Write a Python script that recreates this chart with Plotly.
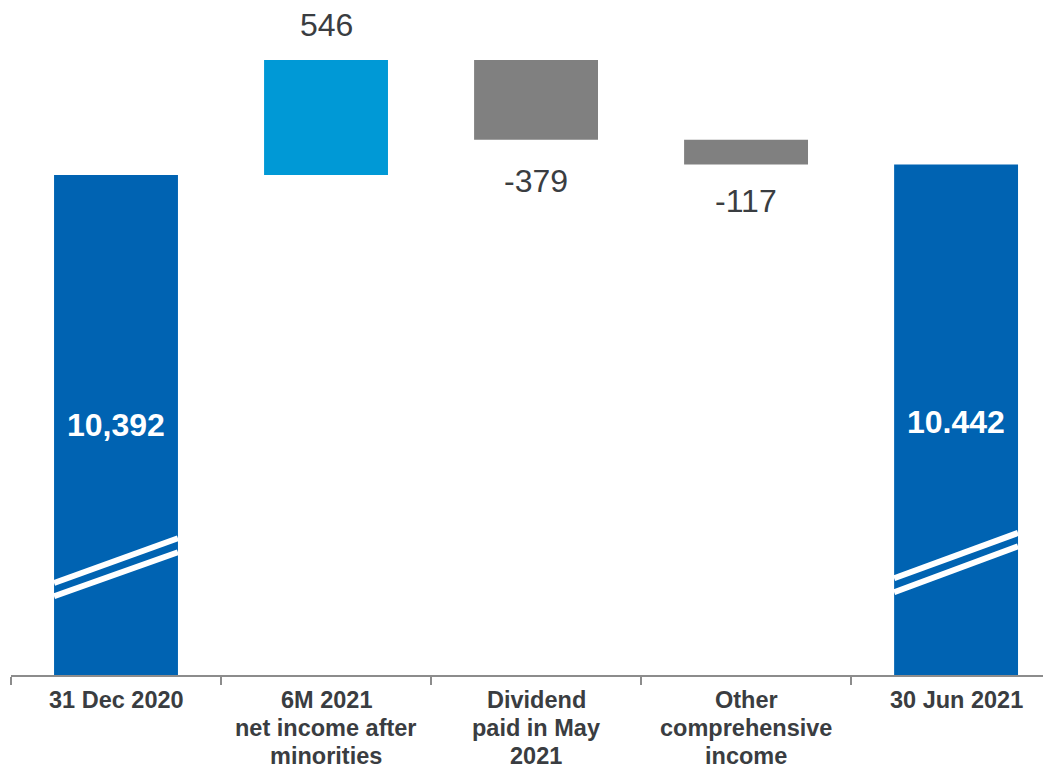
import plotly.graph_objects as go

categories = ["31 Dec 2020", "6M 2021<br>net income after<br>minorities",
              "Dividend<br>paid in May<br>2021", "Other<br>comprehensive<br>income",
              "30 Jun 2021"]
start_value = 10392
changes = [546, -379, -117]
end_value = 10442
total_labels = ["10,392", "10.442"]
change_labels = ["546", "-379", "-117"]

DARK_BLUE = "#0063B2"
LIGHT_BLUE = "#0099D6"
GREY = "#808080"
TEXT = "#3a3d41"
BAR_W = 0.59
label_shifts = [15, -21, -17]
FONT = "Liberation Sans, Arial"

fig = go.Figure()

# totals
fig.add_trace(go.Bar(x=[categories[0], categories[4]], y=[start_value, end_value],
                     marker=dict(color=DARK_BLUE, line=dict(width=0)), width=BAR_W,
                     hoverinfo="skip"))

# changes
bases, cum = [], start_value
for c in changes:
    bases.append(cum)
    cum += c
colors = [LIGHT_BLUE if c > 0 else GREY for c in changes]
fig.add_trace(go.Bar(x=categories[1:4], y=changes, base=bases,
                     marker=dict(color=colors, line=dict(width=0)), width=BAR_W,
                     hoverinfo="skip"))

# change labels
for i, (c, b, lab, sh) in enumerate(zip(changes, bases, change_labels, label_shifts)):
    top = b + c
    fig.add_annotation(x=categories[i + 1], y=top, text=lab, showarrow=False,
                       yanchor="bottom" if c > 0 else "top", yshift=sh,
                       font=dict(size=32, color=TEXT, family=FONT))

# total labels
for idx, lab, py in [(0, total_labels[0], 0.375), (4, total_labels[1], 0.379)]:
    fig.add_annotation(x=categories[idx], y=py, yref="paper", text="<b>%s</b>" % lab,
                       showarrow=False, yanchor="middle",
                       font=dict(size=32, color="white", family=FONT))

# category labels, one annotation per line for tight line spacing
for cat in categories:
    for k, line in enumerate(cat.split("<br>")):
        fig.add_annotation(x=cat, y=0, yref="paper", text="<b>%s</b>" % line,
                           showarrow=False, yanchor="middle", yshift=-(25 + 28 * k),
                           font=dict(size=23.5, color=TEXT, family=FONT))

# axis-break marks
breaks = {0: [(0.138, 0.205), (0.118, 0.184)], 4: [(0.145, 0.213), (0.124, 0.193)]}
for idx, lines in breaks.items():
    for (y0, y1) in lines:
        fig.add_shape(type="line", xref="x", yref="paper",
                      x0=idx - BAR_W / 2, x1=idx + BAR_W / 2, y0=y0, y1=y1,
                      line=dict(color="white", width=6))

fig.update_layout(
    width=1051, height=768,
    margin=dict(l=3, r=8, t=0, b=101),
    plot_bgcolor="white", paper_bgcolor="white",
    showlegend=False, bargap=0.41,
    font=dict(family=FONT, color=TEXT),
)
fig.update_xaxes(type="category", categoryorder="array", categoryarray=categories,
                 range=[-0.5, 4.452], tickson="boundaries", automargin=False,
                 ticks="outside", ticklen=8, tickcolor="#8c8c8c", tickwidth=1.5,
                 showline=True, linecolor="#8c8c8c", linewidth=1.5,
                 showgrid=False, zeroline=False, showticklabels=False)
fig.update_yaxes(range=[8018, 11185], visible=False, showgrid=False, automargin=False)

fig.write_html("out.html")
